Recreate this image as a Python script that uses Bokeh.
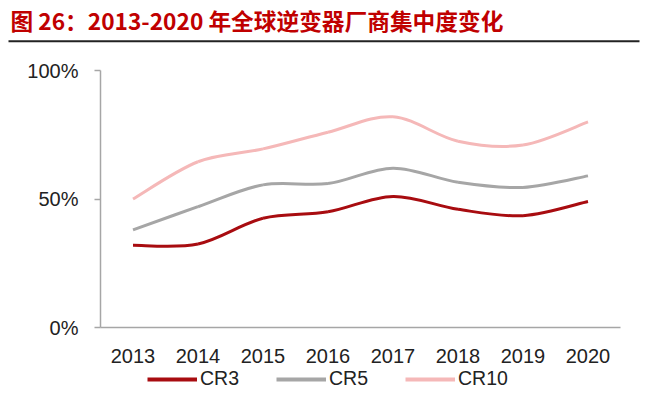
import numpy as np
from bokeh.plotting import figure
from bokeh.layouts import column
from bokeh.models import (Range1d, FixedTicker, Label, Legend, LegendItem,
                          BoxAnnotation, ColumnDataSource)
from bokeh.embed import file_html
from bokeh.resources import INLINE

# ---- data ----
years = [2013, 2014, 2015, 2016, 2017, 2018, 2019, 2020]
cr3 = [32, 32.5, 42.5, 45, 51, 46, 43.5, 49]
cr5 = [38, 47, 55.5, 56, 62, 56.5, 54.5, 59]
cr10 = [50, 64.5, 69.5, 76, 82, 72.5, 71, 80]
series_names = ["CR3", "CR5", "CR10"]
series_colors = ["#a80c10", "#a6a6a6", "#f5b8b8"]
title_text = "图 26：2013-2020 年全球逆变器厂商集中度变化"
y_ticks = [0, 50, 100]
y_tick_labels = ["0%", "50%", "100%"]

FONT = "Liberation Sans"
W = 648


def bare(height):
    f = figure(width=W, height=height, output_backend="svg",
               toolbar_location=None, x_range=Range1d(0, W),
               y_range=Range1d(0, height), x_axis_type=None,
               y_axis_type=None, min_border=0, frame_align=False)
    f.outline_line_color = None
    f.grid.visible = False
    return f


# ---- header (title + rule) ----
hdr = bare(43)
hdr.add_layout(Label(x=10, y=23.5, text=title_text, text_baseline="middle",
                     text_font="Noto Sans CJK SC", text_font_style="bold",
                     text_font_size="22.7px", text_color="#c00000"))
hdr.add_layout(BoxAnnotation(left=8, right=639, bottom=1.3, top=3.3,
                             fill_color="#222222", fill_alpha=1, line_color=None))

# ---- main chart ----
p = figure(width=W, height=325, output_backend="svg", toolbar_location=None,
           x_range=Range1d(2012.5, 2020.5), y_range=Range1d(0, 100),
           min_border_left=100, min_border_right=28,
           min_border_top=27, min_border_bottom=41, frame_align=False)
p.outline_line_color = None
p.grid.visible = False
p.background_fill_color = "white"
p.border_fill_color = "white"

p.xaxis.ticker = FixedTicker(ticks=years)
p.xaxis.major_label_overrides = {y: str(y) for y in years}
p.xaxis.major_tick_out = 0
p.xaxis.major_tick_in = 0
p.xaxis.minor_tick_line_color = None
p.xaxis.major_label_standoff = 21
p.yaxis.ticker = FixedTicker(ticks=y_ticks)
p.yaxis.major_label_overrides = dict(zip(y_ticks, y_tick_labels))
p.yaxis.major_tick_out = 6
p.yaxis.major_tick_in = 0
p.yaxis.minor_tick_line_color = None
p.yaxis.major_label_standoff = 16
for ax in (p.xaxis, p.yaxis):
    ax.axis_line_color = "#a6a6a6"
    ax.axis_line_width = 1.5
    ax.major_tick_line_color = "#a6a6a6"
    ax.major_tick_line_width = 1.5
    ax.major_label_text_font = FONT
    ax.major_label_text_font_size = "20px"
    ax.major_label_text_color = "#222222"


def smooth_segments(xs, ys):
    xs = np.asarray(xs, dtype=float)
    ys = np.asarray(ys, dtype=float)
    n = len(xs)
    xp = np.concatenate([[xs[0]], xs, [xs[-1]]])
    yp = np.concatenate([[ys[0]], ys, [ys[-1]]])
    i = np.arange(n - 1)
    cx0 = xs[:-1] + (xp[i + 2] - xp[i]) / 6.0
    cy0 = ys[:-1] + (yp[i + 2] - yp[i]) / 6.0
    cx1 = xs[1:] - (xp[i + 3] - xp[i + 1]) / 6.0
    cy1 = ys[1:] - (yp[i + 3] - yp[i + 1]) / 6.0
    return dict(x0=xs[:-1], y0=ys[:-1], x1=xs[1:], y1=ys[1:],
                cx0=cx0, cy0=cy0, cx1=cx1, cy1=cy1)


series = [cr3, cr5, cr10]
for vals, col in zip(series, series_colors):
    src = ColumnDataSource(smooth_segments(years, vals))
    p.bezier(x0="x0", y0="y0", x1="x1", y1="y1", cx0="cx0", cy0="cy0",
             cx1="cx1", cy1="cy1", source=src, line_color=col, line_width=3)

# ---- footer (legend) ----
# legend proxies carry the series data but lie outside the footer's view
ftr = bare(22)
items = []
for name, vals, col in zip(series_names, series, series_colors):
    r = ftr.line(x=years, y=vals, line_color=col, line_width=4)
    items.append(LegendItem(label=name, renderers=[r]))
legend = Legend(items=items, orientation="horizontal", location=(147, 0),
                padding=0, margin=0, border_line_color=None,
                background_fill_alpha=0, glyph_width=50, glyph_height=18,
                label_height=18, label_standoff=3, spacing=37,
                label_text_font=FONT, label_text_font_size="19.5px",
                label_text_color="#222222")
ftr.add_layout(legend)

page = column(hdr, p, ftr, spacing=0)
open("out.html", "w").write(file_html(page, INLINE))
